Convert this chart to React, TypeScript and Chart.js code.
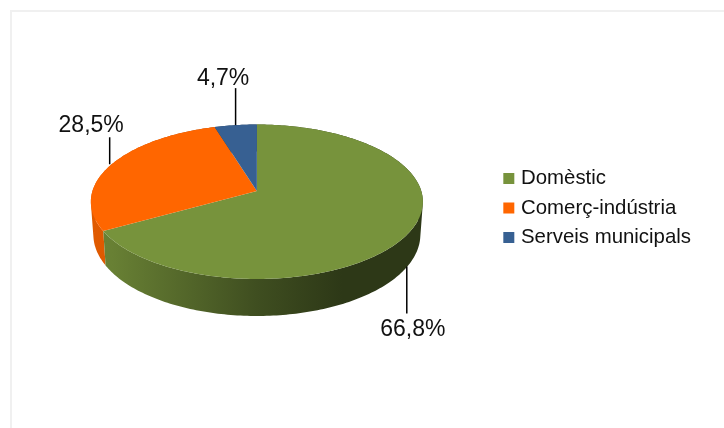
import React, { useEffect, useRef } from "react";
import { Chart, registerables } from "chart.js";

Chart.register(...registerables);

const categories = ["Domèstic", "Comerç-indústria", "Serveis municipals"];
const shares = [66.8, 28.5, 4.7];
const shareLabels = ["66,8%", "28,5%", "4,7%"];
const sliceColors = ["#77933C", "#FF6600", "#376092"];
// Leader line length, leader shift, text offset and text gap for each label (px)
const leaderLengths = [47, 27, 37];
const leaderShifts = [-0.5, -2, 0];
const labelOffsets = [6, -18.5, -12.5];
const labelGaps = [22, 5, 3];

const PERSPECTIVE = 0.139;
const FLATTEN = 0.4607;
const DEPTH = 32;
const DEPTH_NEAR = 5;
const STEP = Math.PI / 180;

type P = { x: number; y: number };

function project(arc: any, angle: number): P {
  const u = Math.cos(angle);
  const v = Math.sin(angle);
  const w = 1 - PERSPECTIVE * v;
  return {
    x: arc.x + (arc.outerRadius * u) / w,
    y: arc.y + (arc.outerRadius * FLATTEN * v) / w,
  };
}

function lower(arc: any, angle: number): P {
  const p = project(arc, angle);
  return {
    x: arc.x + (p.x - arc.x) * 0.985,
    y: p.y + DEPTH + DEPTH_NEAR * Math.sin(angle),
  };
}

function shade(hex: string, f: number): string {
  const n = parseInt(hex.slice(1), 16);
  const r = Math.round(((n >> 16) & 255) * f);
  const g = Math.round(((n >> 8) & 255) * f);
  const b = Math.round((n & 255) * f);
  return `rgb(${r},${g},${b})`;
}

function area(q: P[]): number {
  let s = 0;
  q.forEach((p, i) => {
    const n = q[(i + 1) % q.length];
    s += p.x * n.y - n.x * p.y;
  });
  return s;
}

const pie3d = {
  id: "pie3d",
  afterLayout(chart: any) {
    chart.legend.top += 17;
    chart.legend.bottom += 17;
  },
  beforeDatasetsDraw(chart: any) {
    const ctx = chart.ctx;
    const arcs = chart.getDatasetMeta(0).data;
    const ref = arcs[0];

    // side wall, back slices first: one path per slice, every quad wound the same way
    [...arcs].reverse().forEach((arc: any, ri: number) => {
      const color = sliceColors[arcs.length - 1 - ri];
      const left = ref.x - ref.outerRadius;
      const width = ref.outerRadius * 2;
      const g = ctx.createLinearGradient(left, 0, left + width, 0);
      g.addColorStop(0, shade(color, 0.88));
      g.addColorStop(0.06, shade(color, 0.87));
      g.addColorStop(0.5, shade(color, 0.53));
      g.addColorStop(0.76, shade(color, 0.38));
      g.addColorStop(1, shade(color, 0.38));
      ctx.fillStyle = g;
      ctx.beginPath();
      for (let a = arc.startAngle; a < arc.endAngle; a += STEP) {
        const b = Math.min(a + STEP, arc.endAngle);
        let q = [project(arc, a), project(arc, b), lower(arc, b), lower(arc, a)];
        if (area(q) < 0) q = q.reverse();
        q.forEach((p, i) => (i ? ctx.lineTo(p.x, p.y) : ctx.moveTo(p.x, p.y)));
        ctx.closePath();
      }
      ctx.fill("nonzero");
    });

    // top face
    arcs.forEach((arc: any, i: number) => {
      ctx.beginPath();
      ctx.moveTo(arc.x, arc.y);
      for (let a = arc.startAngle; a < arc.endAngle; a += STEP) {
        const p = project(arc, a);
        ctx.lineTo(p.x, p.y);
      }
      const e = project(arc, arc.endAngle);
      ctx.lineTo(e.x, e.y);
      ctx.closePath();
      ctx.fillStyle = sliceColors[i];
      ctx.fill();
    });

    // leader lines and labels
    arcs.forEach((arc: any, i: number) => {
      const mid = (arc.startAngle + arc.endAngle) / 2;
      const front = Math.sin(mid) > 0;
      const a = front ? lower(arc, mid) : project(arc, mid);
      const lx = a.x + leaderShifts[i];
      const end = a.y + (front ? 1 : -1) * leaderLengths[i];
      ctx.beginPath();
      ctx.moveTo(lx, a.y);
      ctx.lineTo(lx, end);
      ctx.lineWidth = 1.5;
      ctx.strokeStyle = "#000";
      ctx.stroke();
      ctx.fillStyle = "#111";
      ctx.font = '23px "Liberation Sans"';
      ctx.textAlign = "center";
      ctx.textBaseline = "alphabetic";
      ctx.fillText(shareLabels[i], lx + labelOffsets[i], front ? end + labelGaps[i] : end - labelGaps[i]);
    });
    return false;
  },
};

export default function App() {
  const ref = useRef<HTMLCanvasElement>(null);
  useEffect(() => {
    const chart = new Chart(ref.current!, {
      type: "pie",
      data: {
        labels: categories,
        datasets: [{ data: shares, backgroundColor: sliceColors, borderWidth: 0 }],
      },
      options: {
        animation: false,
        responsive: false,
        layout: { padding: { left: 16, top: 26.6, bottom: 72.6, right: 23 } },
        plugins: {
          tooltip: { enabled: false },
          legend: {
            position: "right",
            labels: {
              usePointStyle: true,
              pointStyle: "rect",
              boxWidth: 4,
              boxHeight: 11,
              padding: 9.1,
              color: "#111",
              font: { family: '"Liberation Sans"', size: 20.4 },
            },
          },
        },
      },
      plugins: [pie3d],
    } as any);
    return () => chart.destroy();
  }, []);
  return (
    <div style={{ position: "absolute", left: 0, top: 0, width: 724, height: 428, background: "#fff", overflow: "hidden" }}>
      <div style={{ position: "absolute", left: 10, top: 10, width: 714, height: 2, background: "#f0f0f0" }} />
      <div style={{ position: "absolute", left: 10, top: 10, width: 2, height: 418, background: "#f0f0f0" }} />
      <canvas ref={ref} width={724} height={428} style={{ position: "absolute", left: 0, top: 0, width: 724, height: 428 }} />
    </div>
  );
}
